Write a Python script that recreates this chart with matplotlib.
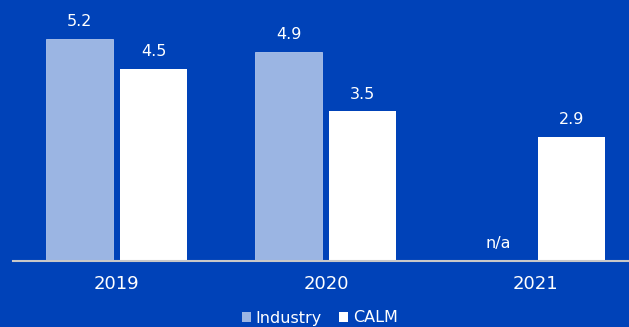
import matplotlib
matplotlib.use("Agg")
import matplotlib.pyplot as plt
from matplotlib.patches import Patch
import numpy as np

years = ["2019", "2020", "2021"]
industry = [5.2, 4.9, None]
calm = [4.5, 3.5, 2.9]
series_names = ["Industry", "CALM"]

BG = "#0042B8"
LIGHT = "#9BB5E3"
WHITE = "#FFFFFF"

fig = plt.figure(figsize=(6.29, 3.27), dpi=100, facecolor=BG)
ax = fig.add_axes([13 / 629, 66 / 327, 616 / 629, 261 / 327])
ax.set_facecolor(BG)

x = np.arange(len(years))
off = 0.177
w = 0.32

ind_vals = [v if v is not None else 0 for v in industry]
ax.bar(x - off, ind_vals, width=w, color=LIGHT, edgecolor="#B0C4EA", linewidth=0.6, zorder=2)
ax.bar(x + off, calm, width=w, color=WHITE, linewidth=0, zorder=2)

for xi, v in zip(x - off, industry):
    label = f"{v:.1f}" if v is not None else "n/a"
    ax.annotate(label, (xi, v if v is not None else 0), xytext=(0, 7),
                textcoords="offset points", ha="center", va="bottom",
                color="white", fontsize=11.5)
for xi, v in zip(x + off, calm):
    ax.annotate(f"{v:.1f}", (xi, v), xytext=(0, 7),
                textcoords="offset points", ha="center", va="bottom",
                color="white", fontsize=11.5)

ax.set_xlim(-0.497, 2.45)
ax.set_ylim(0, 6.11)
ax.set_xticks(x)
ax.set_xticklabels(years, color="white", fontsize=13)
ax.tick_params(axis="x", length=0, pad=10)
ax.set_yticks([])
for s in ["top", "right", "left"]:
    ax.spines[s].set_visible(False)
ax.spines["bottom"].set_color("#C8C8C8")
ax.spines["bottom"].set_linewidth(1.5)

handles = [Patch(facecolor=LIGHT, edgecolor="none"), Patch(facecolor=WHITE, edgecolor="none")]
fig.legend(handles, series_names, loc="center", bbox_to_anchor=(320 / 629, 9 / 327),
           ncol=2, frameon=False, fontsize=11.5, labelcolor="white",
           handlelength=0.55, handleheight=0.55, handletextpad=0.3,
           columnspacing=1.1, borderpad=0, borderaxespad=0)

fig.savefig("out.png", dpi=100, facecolor=BG)
